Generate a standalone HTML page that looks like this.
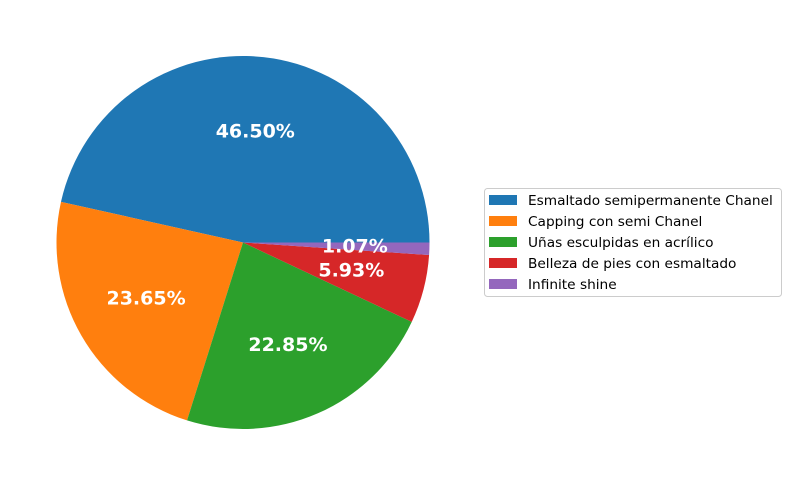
<!DOCTYPE html>
<html><head><meta charset="utf-8"><style>
body{margin:0;background:#fff;}
svg{display:block;font-family:"DejaVu Sans","Liberation Sans",sans-serif;}
</style></head><body>
<svg id="chart" width="792" height="486">
<g id="slices"></g>
<g id="labels"></g>
<g id="legend">
<rect x="484.5" y="188.5" width="297" height="108" rx="3" fill="#fff" stroke="#cccccc"/>
</g>
</svg>
<script>
const categories = ["Esmaltado semipermanente Chanel","Capping con semi Chanel","Uñas esculpidas en acrílico","Belleza de pies con esmaltado","Infinite shine"];
const values = [46.50, 23.65, 22.85, 5.93, 1.07];
const colors = ["#1f77b4","#ff7f0e","#2ca02c","#d62728","#9467bd"];
const NS="http://www.w3.org/2000/svg";
const cx=243, cy=242.5, r=186.5;
const total=values.reduce((a,b)=>a+b,0);
const sg=document.getElementById('slices'), lg=document.getElementById('labels'), leg=document.getElementById('legend');
function pt(a,rad){return [cx+rad*Math.cos(a), cy-rad*Math.sin(a)];}
let start=0;
values.forEach((v,i)=>{
  const sweep=v/total*2*Math.PI, end=start+sweep;
  const p1=pt(start,r), p2=pt(end,r);
  const large=sweep>Math.PI?1:0;
  const path=document.createElementNS(NS,'path');
  path.setAttribute('d',`M${cx},${cy} L${p1[0]},${p1[1]} A${r},${r} 0 ${large} 0 ${p2[0]},${p2[1]} Z`);
  path.setAttribute('fill',colors[i]);
  
  
  sg.appendChild(path);
  const mid=(start+end)/2, lp=pt(mid,r*0.6);
  const t=document.createElementNS(NS,'text');
  t.setAttribute('x',lp[0]);t.setAttribute('y',lp[1]+6);
  t.setAttribute('text-anchor','middle');t.setAttribute('fill','#fff');
  t.setAttribute('font-size','19');t.setAttribute('font-weight','bold');
  t.textContent=v.toFixed(2)+'%';
  
  
  lg.appendChild(t);
  const y=200+i*21;
  const pr=document.createElementNS(NS,'rect');
  pr.setAttribute('x',489);pr.setAttribute('y',y-5);pr.setAttribute('width',28);pr.setAttribute('height',10);
  pr.setAttribute('fill',colors[i]);
  
  
  leg.appendChild(pr);
  const lt=document.createElementNS(NS,'text');
  lt.setAttribute('x',528);lt.setAttribute('y',y+5);lt.setAttribute('font-size','13.7');lt.setAttribute('fill','#000');
  lt.textContent=categories[i];
  
  
  leg.appendChild(lt);
  start=end;
});
</script>
</body></html>
